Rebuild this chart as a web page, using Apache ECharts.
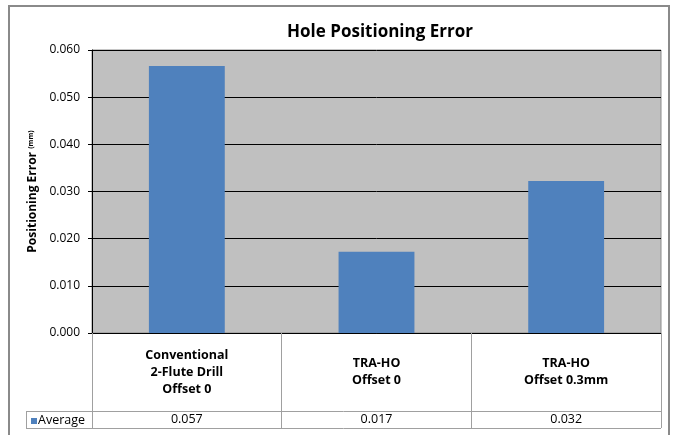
<!DOCTYPE html>
<html>
<head>
<meta charset="utf-8">
<script src="https://cdn.jsdelivr.net/npm/echarts@6/dist/echarts.min.js"></script>
<style>
  html, body { margin: 0; padding: 0; background: #fff; }
  #chart { width: 675px; height: 435px; }
</style>
</head>
<body>
<div id="chart"></div>
<script>
// categories and values
const categories = ['Conventional\n2-Flute Drill\nOffset 0', 'TRA-HO\nOffset 0', 'TRA-HO\nOffset 0.3mm']
const averages = [0.0566, 0.0172, 0.0322]
const tableValues = ['0.057', '0.017', '0.032']
const yTicks = [0, 0.01, 0.02, 0.03, 0.04, 0.05, 0.06]

const font = 'Open Sans'
let mycharts = echarts.init(document.getElementById('chart'))

mycharts.setOption({
  backgroundColor: '#fff',
  animation: false,
  title: {
    text: 'Hole Positioning Error',
    left: 375,
    textAlign: 'center',
    top: 19,
    textStyle: { fontFamily: font, fontSize: 17, fontWeight: 'bold', color: '#000' },
  },
  grid: {
    left: 92,
    right: 14,
    top: 50,
    bottom: 102,
    show: true,
    backgroundColor: '#c0c0c0',
    borderColor: '#8c8c8c',
    borderWidth: 1,
  },
  xAxis: [
    {
      type: 'category',
      data: categories,
      axisLine: { show: true, lineStyle: { color: '#000', width: 1 } },
      // table column dividers
      axisTick: { show: true, length: 95, lineStyle: { color: '#a0a0a0', width: 1 } },
      axisLabel: {
        margin: 39,
        verticalAlign: 'middle',
        lineHeight: 17,
        fontFamily: font,
        fontSize: 12.5,
        fontWeight: 'bold',
        color: '#000',
      },
    },
    {
      type: 'category',
      data: tableValues,
      position: 'bottom',
      axisLine: { show: false },
      axisTick: { show: false },
      axisLabel: {
        margin: 86,
        verticalAlign: 'middle',
        fontFamily: font,
        fontSize: 12.5,
        color: '#000',
      },
    },
  ],
  yAxis: {
    type: 'value',
    min: yTicks[0],
    max: yTicks[yTicks.length - 1],
    interval: 0.01,
    name: 'Positioning Error {s|(mm)}',
    nameLocation: 'middle',
    nameGap: 53,
    nameRotate: 90,
    nameTextStyle: {
      fontFamily: font,
      fontSize: 12,
      fontWeight: 'bold',
      color: '#000',
      rich: { s: { fontSize: 7, fontFamily: font, color: '#000', padding: [0, 0, 3, 0] } },
    },
    axisLine: { show: true, lineStyle: { color: '#000' } },
    axisTick: { show: true, length: 4, lineStyle: { color: '#000' } },
    axisLabel: {
      margin: 12,
      fontFamily: font,
      fontSize: 12,
      color: '#000',
      formatter: (v) => v.toFixed(3),
    },
    splitLine: { show: true, lineStyle: { color: '#000', width: 1 } },
  },
  series: [
    {
      name: 'Average',
      type: 'bar',
      data: averages,
      barWidth: '40%',
      itemStyle: { color: '#4f81bd' },
    },
  ],
  graphic: [
    // outer chart border
    {
      type: 'rect',
      shape: { x: 9, y: 6, width: 660, height: 440 },
      style: { fill: null, stroke: '#8a8a8a', lineWidth: 2 },
      silent: true,
    },
    // table row lines
    {
      type: 'line',
      shape: { x1: 26, y1: 411.5, x2: 661, y2: 411.5 },
      style: { stroke: '#a0a0a0', lineWidth: 1 },
    },
    {
      type: 'line',
      shape: { x1: 26, y1: 428.5, x2: 661, y2: 428.5 },
      style: { stroke: '#a0a0a0', lineWidth: 1 },
    },
    {
      type: 'line',
      shape: { x1: 26.5, y1: 411, x2: 26.5, y2: 429 },
      style: { stroke: '#a0a0a0', lineWidth: 1 },
    },
    // legend key
    {
      type: 'rect',
      shape: { x: 31, y: 418, width: 6, height: 6 },
      style: { fill: '#4f81bd' },
    },
    {
      type: 'text',
      x: 38,
      y: 420,
      style: { text: 'Average', fontFamily: font, fontSize: 12.5, fill: '#000', verticalAlign: 'middle' },
    },
  ],
})
</script>
</body>
</html>
